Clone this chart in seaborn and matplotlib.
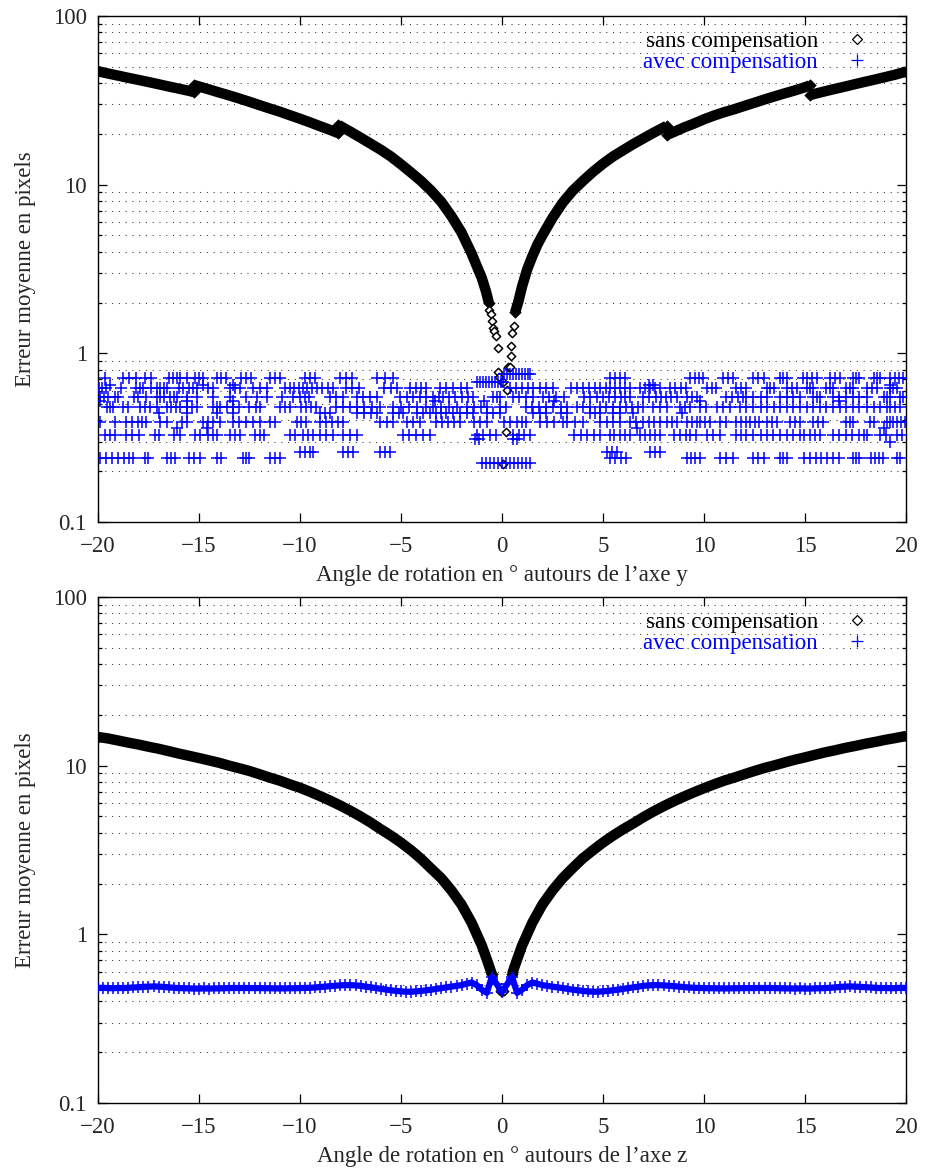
import numpy as np
import matplotlib
matplotlib.use("Agg")
import matplotlib.pyplot as plt
from matplotlib.lines import Line2D
from matplotlib.ticker import FixedLocator, FixedFormatter, NullFormatter
import seaborn as sns

sns.set_style("ticks")
plt.rcParams["font.family"] = ["Liberation Serif", "DejaVu Serif"]

BLUE = "#0000ff"

# ---------------------------------------------------------------------------
# Rotation about the y axis: error without compensation (piecewise branches)
# ---------------------------------------------------------------------------
y_sans_a_angle = [-20, -19.5, -19, -18.5, -18, -17.5, -17, -16.5, -16, -15.5, -15.25]
y_sans_a_err = [47.0, 45.6, 44.3, 43.0, 41.8, 40.6, 39.4, 38.2, 37.1, 36.0, 35.4]

y_sans_b_angle = [-15.25, -15, -14.5, -14, -13.5, -13, -12.5, -12, -11.5, -11, -10.5,
                  -10, -9.5, -9, -8.5, -8.1]
y_sans_b_err = [39.0, 38.2, 36.7, 35.2, 33.8, 32.4, 31.0, 29.6, 28.3, 27.1, 25.8,
                24.6, 23.4, 22.2, 21.1, 20.2]

y_sans_c_angle = [-8.1, -7.5, -7, -6.5, -6, -5.5, -5, -4.5, -4, -3.5, -3, -2.5, -2,
                  -1.75, -1.5, -1.25, -1.0, -0.8, -0.65]
y_sans_c_err = [22.6, 20.6, 19.0, 17.5, 16.1, 14.7, 13.2, 11.8, 10.5, 9.2, 7.9, 6.5,
                5.2, 4.5, 3.9, 3.3, 2.8, 2.35, 2.0]

y_sans_d_angle = [0.65, 0.8, 1.0, 1.25, 1.5, 1.75, 2.0, 2.5, 3.0, 3.5, 4.0, 4.5, 5.0,
                  5.5, 6.0, 6.5, 7.0, 7.5, 8.15]
y_sans_d_err = [1.75, 2.0, 2.5, 3.15, 3.75, 4.4, 5.0, 6.35, 7.8, 9.2, 10.5, 11.9, 13.3,
                14.7, 16.0, 17.4, 18.8, 20.3, 22.3]

y_sans_e_angle = [8.15, 8.5, 9, 9.5, 10, 10.5, 11, 11.5, 12, 12.5, 13, 13.5, 14, 14.5,
                  15, 15.25]
y_sans_e_err = [19.7, 20.5, 21.8, 23.0, 24.4, 25.7, 26.9, 28.0, 29.3, 30.6, 32.0, 33.4,
                34.8, 36.2, 37.8, 38.8]

y_sans_f_angle = [15.25, 15.5, 16, 16.5, 17, 17.5, 18, 18.5, 19, 19.5, 20]
y_sans_f_err = [34.0, 34.6, 35.8, 37.0, 38.2, 39.5, 40.8, 42.1, 43.5, 45.0, 46.8]

# isolated samples close to zero
y_sans_center_angle = [-0.63, -0.56, -0.48, -0.43, -0.38, -0.30, -0.22, -0.18, -0.15,
                       -0.02, 0.05, 0.06, 0.18, 0.23, 0.31, 0.38, 0.43, 0.46, 0.52, 0.58]
y_sans_center_err = [1.81, 1.70, 1.56, 1.42, 1.35, 1.26, 1.07, 0.78, 0.72,
                     0.68, 0.68, 0.22, 0.34, 0.61, 0.83, 0.83, 0.96, 1.10, 1.32, 1.45]

# ---------------------------------------------------------------------------
# Rotation about the y axis: error with compensation, grouped by error level
# ---------------------------------------------------------------------------
y_avec_levels = [0.75, 0.71, 0.68, 0.65, 0.62, 0.55, 0.52, 0.48, 0.44, 0.39, 0.36,
                 0.33, 0.31, 0.30, 0.26, 0.24, 0.225]
y_avec_angles = [
    # 0.75
    [0.1, 0.25, 0.4, 0.55, 0.7, 0.85, 1.0, 1.15, 1.3, 1.4],
    # 0.71
    [-19.65, -18.75, -18.45, -18.1, -17.65, -17.35, -16.5, -16.3, -16.1, -15.95,
     -15.6, -15.2, -15.0, -14.8, -14.1, -13.9, -13.65, -12.9, -12.65, -12.4, -11.5,
     -11.25, -11.0, -9.75, -9.5, -9.25, -8.0, -7.7, -7.4, -6.2, -5.8, -5.4, 5.35, 5.6,
     5.85, 6.1, 9.3, 9.55, 9.75, 9.95, 10.95, 11.2, 11.45, 12.45, 12.7, 12.95, 13.75,
     13.9, 14.1, 14.9, 15.1, 15.35, 15.6, 16.25, 16.5, 16.75, 17.4, 17.55, 17.7, 18.4,
     18.55, 18.7, 19.2, 19.45, 19.65, 19.85],
    # 0.68
    [-1.25, -1.1, -0.95, -0.8, -0.65, -0.5, -0.35, -0.2, -0.05, 0.05],
    # 0.65
    [-19.4, -14.8, -13.3, 7.3, 7.5, 19.2],
    # 0.62
    [-19.95, -19.8, -19.6, -18.85, -18.1, -17.9, -17.75, -17.35, -17.1, -16.95,
     -16.75, -16.6, -16.0, -15.8, -15.5, -15.3, -15.1, -14.55, -14.3, -13.45, -13.2,
     -12.95, -12.3, -12.0, -11.65, -10.75, -10.5, -10.3, -10.05, -9.85, -9.65, -9.4,
     -9.15, -8.9, -8.6, -8.35, -7.7, -7.4, -7.1, -5.85, -5.5, -5.2, -4.55, -4.25,
     -4.0, -3.75, -3.05, -2.75, -2.4, -2.05, -1.75, 0.4, 0.7, 1.0, 1.3, 1.55, 1.9,
     2.2, 2.55, 3.4, 3.7, 4.0, 4.3, 4.6, 4.85, 5.15, 5.35, 5.6, 5.85, 6.1, 6.35, 6.85,
     7.1, 7.35, 7.6, 7.8, 8.3, 8.55, 8.85, 9.1, 10.15, 10.4, 10.6, 11.6, 11.85, 12.1,
     13.1, 13.25, 13.45, 14.1, 14.35, 14.6, 15.1, 15.25, 15.4, 16.05, 16.25, 16.4,
     17.05, 17.25, 17.4, 18.05, 18.3, 18.55, 19.2, 19.35, 19.55],
    # 0.55
    [-19.9, -19.7, -19.5, -19.15, -19.0, -18.2, -18.0, -17.6, -17.1, -16.95, -16.75,
     -16.45, -16.25, -16.1, -15.6, -15.1, -14.3, -13.45, -12.65, -12.15, -11.65,
     -10.9, -10.35, -10.0, -9.75, -9.55, -8.5, -8.2, -7.85, -7.2, -6.9, -6.55, -6.2,
     -5.05, -4.7, -4.4, -4.05, -3.75, -3.4, -3.1, -2.9, -2.6, -2.3, -2.0, -1.7, -1.45,
     -0.45, -0.25, -0.1, 0.55, 0.85, 1.2, 1.55, 2.05, 2.35, 2.7, 3.05, 4.05, 4.35,
     4.7, 5.0, 5.3, 5.6, 5.9, 6.1, 6.35, 7.0, 7.3, 7.65, 7.85, 8.1, 8.35, 8.65, 9.15,
     9.4, 9.65, 11.1, 11.4, 11.7, 11.95, 12.1, 12.45, 12.8, 13.1, 13.75, 14.1, 14.4,
     14.75, 15.4, 15.6, 15.75, 16.4, 16.7, 17.05, 17.4, 17.7, 18.05, 18.9, 19.05,
     19.2, 19.7, 19.85],
    # 0.52
    [-19.9, -15.6, -13.3, -3.3, -0.9, 2.6, 9.8, 16.7],
    # 0.48
    [-19.55, -19.4, -19.25, -18.75, -18.5, -17.9, -17.65, -17.4, -17.1, -16.6, -16.4,
     -16.15, -15.95, -15.6, -15.35, -15.1, -14.3, -14.1, -13.95, -13.6, -13.3, -13.0,
     -12.5, -12.2, -12.0, -11.0, -10.75, -10.5, -9.95, -9.7, -9.45, -9.2, -8.2,
     -7.85, -7.5, -7.2, -6.85, -6.45, -6.05, -5.4, -5.0, -4.6, -4.2, -3.75, -3.4,
     -3.0, -2.6, -2.25, -1.75, -1.4, -1.05, -0.75, -0.1, 0.2, 1.2, 1.5, 1.85, 2.2,
     2.55, 2.9, 3.2, 3.7, 4.0, 4.35, 4.85, 5.15, 5.5, 5.85, 6.15, 6.45, 6.75, 7.0,
     7.5, 7.8, 8.15, 8.8, 9.05, 9.3, 9.8, 10.1, 10.65, 10.95, 11.3, 11.8, 12.1,
     12.45, 12.8, 13.1, 13.45, 13.75, 14.1, 14.4, 14.75, 15.1, 15.4, 15.75, 16.05,
     16.4, 16.75, 17.05, 17.4, 17.7, 18.05, 18.4, 18.7, 19.05, 19.2, 19.45, 19.7],
    # 0.44
    [-17.0, -15.6, -14.1, -13.3, -9.0, -8.75, -8.5, -7.2, -6.85, -6.5, -6.2, -5.4,
     -5.1, -4.9, -4.2, -3.9, -3.55, -3.25, -3.0, -2.75, -2.4, -2.1, -1.75, -1.45,
     -0.75, -0.45, -0.1, 1.55, 1.9, 2.2, 2.9, 3.2, 4.35, 4.6, 4.85, 5.5, 5.85, 6.5,
     8.9],
    # 0.39
    [-19.9, -19.15, -18.6, -18.3, -18.0, -17.8, -17.6, -16.95, -16.6, -15.85, -15.6,
     -14.8, -14.55, -14.3, -13.95, -13.3, -13.0, -12.65, -12.3, -12.0, -11.5, -11.25,
     -10.15, -9.95, -9.7, -9.0, -8.7, -8.4, -8.1, -7.85, -6.05, -5.7, -5.4, -4.7,
     -4.4, -4.05, -3.25, -2.95, -2.65, -2.35, -2.1, -1.4, -1.1, -0.75, 0.1, 0.4, 0.75,
     1.0, 1.2, 1.9, 2.25, 2.6, 3.0, 3.2, 3.6, 4.0, 4.85, 5.2, 5.5, 5.85, 6.35, 6.65,
     7.0, 7.3, 7.55, 7.8, 8.15, 8.4, 8.65, 9.15, 9.4, 9.65, 9.8, 10.05, 10.3, 10.8,
     11.1, 11.6, 11.85, 12.1, 12.3, 12.55, 12.75, 13.1, 13.35, 13.6, 14.25, 14.5,
     14.75, 15.4, 15.65, 15.9, 17.05, 17.25, 17.4, 18.2, 18.4, 19.05, 19.2, 19.35,
     19.55, 19.75, 19.95],
    # 0.36
    [-16.1, -14.6, 6.7, 18.9],
    # 0.33
    [-19.65, -19.4, -19.15, -18.6, -18.3, -17.95, -17.2, -17.0, -16.25, -15.95,
     -15.2, -14.95, -14.55, -14.3, -14.1, -13.45, -13.2, -12.95, -12.25, -12.0,
     -11.8, -10.5, -10.25, -9.85, -9.6, -9.35, -9.0, -8.7, -8.35, -7.85, -7.5, -7.2,
     -4.9, -4.6, -4.25, -3.9, -3.55, -1.25, -0.95, -0.6, -0.3, 0.55, 0.85, 1.1, 1.4,
     3.55, 3.9, 4.2, 4.55, 4.85, 5.35, 5.55, 5.85, 6.1, 6.35, 6.85, 7.1, 7.35, 7.6,
     7.8, 8.5, 8.8, 9.1, 9.3, 9.6, 10.15, 10.45, 10.8, 11.6, 11.85, 12.1, 12.45, 12.8,
     13.1, 13.4, 13.75, 14.1, 14.4, 14.75, 14.95, 15.25, 15.5, 15.75, 16.4, 16.7,
     17.05, 17.35, 17.7, 17.9, 18.05, 18.7, 19.0, 19.55, 19.8],
    # 0.31
    [-1.35, -1.15, 0.55, 0.75],
    # 0.30
    [19.2],
    # 0.26
    [-10.0, -9.75, -9.5, -9.35, -7.85, -7.6, -7.35, -6.05, -5.8, -5.55, 5.2, 5.45,
     5.7, 7.35, 7.6, 7.8],
    # 0.24
    [-19.9, -19.6, -19.3, -19.0, -18.7, -18.45, -18.25, -17.65, -17.5, -16.6, -16.4,
     -16.2, -15.5, -15.25, -14.95, -14.1, -13.9, -12.8, -12.65, -12.5, -11.5, -11.25,
     -11.0, 5.35, 5.6, 5.9, 6.15, 9.15, 9.35, 9.55, 9.8, 10.8, 11.1, 11.45, 12.45,
     12.7, 12.95, 13.75, 13.9, 14.1, 14.95, 15.25, 15.55, 15.8, 16.1, 16.4, 16.7,
     17.4, 17.55, 17.7, 18.25, 18.45, 18.65, 18.85, 19.55, 19.7],
    # 0.225
    [-1.0, -0.8, -0.6, -0.4, -0.2, 0.0, 0.2, 0.4, 0.6, 0.8, 1.0, 1.2, 1.4],
]

# ---------------------------------------------------------------------------
# Rotation about the z axis
# ---------------------------------------------------------------------------
z_sans_left_angle = [-20, -19.5, -19, -18.5, -18, -17.5, -17, -16.5, -16, -15.5, -15,
                     -14.5, -14, -13.5, -13, -12.5, -12, -11.5, -11, -10.5, -10, -9.5,
                     -9, -8.5, -8, -7.5, -7, -6.5, -6, -5.5, -5, -4.5, -4, -3.5, -3,
                     -2.5, -2, -1.5, -1, -0.75, -0.6, -0.5]
z_sans_left_err = [14.8, 14.5, 14.1, 13.7, 13.35, 12.95, 12.6, 12.2, 11.8, 11.45, 11.1,
                   10.75, 10.4, 10.0, 9.65, 9.3, 8.9, 8.5, 8.15, 7.75, 7.4, 7.0, 6.6,
                   6.2, 5.8, 5.4, 5.0, 4.6, 4.2, 3.85, 3.5, 3.15, 2.8, 2.45, 2.15, 1.82,
                   1.5, 1.17, 0.86, 0.71, 0.63, 0.58]
z_sans_right_angle = [0.5, 0.6, 0.75, 1, 1.5, 2, 2.5, 3, 3.5, 4, 4.5, 5, 5.5, 6, 6.5, 7,
                      7.5, 8, 8.5, 9, 9.5, 10, 10.5, 11, 11.5, 12, 12.5, 13, 13.5, 14,
                      14.5, 15, 15.5, 16, 16.5, 17, 17.5, 18, 18.5, 19, 19.5, 20]
z_sans_right_err = [0.58, 0.63, 0.71, 0.86, 1.17, 1.5, 1.82, 2.15, 2.47, 2.82, 3.15, 3.5,
                    3.85, 4.2, 4.55, 4.95, 5.35, 5.75, 6.15, 6.55, 6.95, 7.35, 7.75, 8.15,
                    8.5, 8.9, 9.3, 9.7, 10.05, 10.45, 10.85, 11.2, 11.6, 12.0, 12.35,
                    12.75, 13.1, 13.5, 13.85, 14.25, 14.6, 15.0]
z_sans_center_angle = [-0.5, -0.1, 0.0, 0.1, 0.5]
z_sans_center_err = [0.57, 0.46, 0.455, 0.46, 0.57]

# with compensation, sampled every 0.25 degree from -20 to 20
z_avec_err = [
    0.480, 0.482, 0.480, 0.479, 0.481, 0.480, 0.482, 0.484,
    0.486, 0.488, 0.490, 0.491, 0.490, 0.488, 0.485, 0.482,
    0.480, 0.479, 0.478, 0.477, 0.477, 0.478, 0.477, 0.478,
    0.478, 0.479, 0.480, 0.481, 0.480, 0.481, 0.480, 0.480,
    0.480, 0.479, 0.479, 0.478, 0.478, 0.478, 0.479, 0.479,
    0.480, 0.481, 0.482, 0.484, 0.487, 0.490, 0.493, 0.496,
    0.498, 0.500, 0.500, 0.498, 0.495, 0.490, 0.485, 0.480,
    0.475, 0.470, 0.466, 0.462, 0.459, 0.457, 0.457, 0.459,
    0.462, 0.466, 0.470, 0.475, 0.480, 0.485, 0.490, 0.495,
    0.500, 0.510, 0.518, 0.500, 0.470, 0.450, 0.560, 0.505,
    0.455,
    0.505, 0.560, 0.450, 0.470, 0.500, 0.518, 0.510, 0.500,
    0.495, 0.490, 0.485, 0.480, 0.475, 0.470, 0.466, 0.462,
    0.459, 0.457, 0.457, 0.459, 0.462, 0.466, 0.470, 0.475,
    0.480, 0.485, 0.490, 0.495, 0.498, 0.500, 0.500, 0.498,
    0.496, 0.493, 0.490, 0.487, 0.484, 0.482, 0.481, 0.480,
    0.479, 0.479, 0.478, 0.478, 0.478, 0.479, 0.479, 0.480,
    0.480, 0.480, 0.481, 0.480, 0.481, 0.480, 0.479, 0.478,
    0.478, 0.477, 0.478, 0.477, 0.477, 0.478, 0.479, 0.480,
    0.482, 0.485, 0.488, 0.490, 0.491, 0.490, 0.488, 0.486,
    0.484, 0.482, 0.480, 0.481, 0.479, 0.480, 0.482, 0.480,
]
z_avec_angle = np.linspace(-20, 20, len(z_avec_err))

y_ticks = [0.1, 1, 10, 100]
y_tick_labels = ["0.1", "1", "10", "100"]
y_minor = [m * d for d in (0.1, 1, 10) for m in range(2, 10)]
x_ticks = [-20, -15, -10, -5, 0, 5, 10, 15, 20]

FS = 16.5
BAND = 7.5  # width of the dense "sans compensation" trace, in points


def style_axes(ax, xlabel):
    ax.set_yscale("log")
    ax.set_xlim(-20, 20)
    ax.set_ylim(0.1, 100)
    ax.yaxis.set_major_locator(FixedLocator(y_ticks))
    ax.yaxis.set_major_formatter(FixedFormatter(y_tick_labels))
    ax.yaxis.set_minor_locator(FixedLocator(y_minor))
    ax.yaxis.set_minor_formatter(NullFormatter())
    ax.set_xticks(x_ticks)
    ax.grid(False)
    ax.grid(True, which="minor", axis="y", color="#333333",
            linestyle=(0, (1, 5.5)), linewidth=0.75)
    ax.set_axisbelow(True)
    ax.tick_params(which="both", direction="in", top=True, right=True,
                   labelsize=FS, width=0.9, color="black")
    ax.tick_params(which="major", length=6.5)
    ax.tick_params(axis="y", which="major", pad=8)
    ax.tick_params(axis="x", which="major", pad=10)
    ax.tick_params(which="minor", length=3.2)
    for s in ax.spines.values():
        s.set_visible(True)
        s.set_linewidth(1.0)
        s.set_color("black")
    ax.set_xlabel(xlabel, fontsize=FS)
    ax.set_ylabel("Erreur moyenne en pixels", fontsize=FS)
    ax.xaxis.set_label_coords(0.5, -0.085)
    ax.yaxis.set_label_coords(-0.077, 0.5)

    handles = [
        Line2D([], [], linestyle="none", marker="D", markersize=5,
               markerfacecolor="white", markeredgecolor="black", markeredgewidth=0.9),
        Line2D([], [], linestyle="none", marker="+", markersize=8,
               markeredgecolor=BLUE, markeredgewidth=0.9),
    ]
    leg = ax.legend(handles, ["sans compensation", "avec compensation"],
                    loc="upper right", bbox_to_anchor=(0.9536, 0.970),
                    frameon=False, markerfirst=False, fontsize=FS,
                    handlelength=1.0, handletextpad=1.2, labelspacing=0.0,
                    borderaxespad=0, borderpad=0)
    leg.get_texts()[0].set_color("black")
    leg.get_texts()[1].set_color(BLUE)


def band(ax, x, y):
    sns.lineplot(x=x, y=y, ax=ax, color="black", linewidth=BAND, sort=False,
                 estimator=None, solid_capstyle="butt", legend=False)
    sns.scatterplot(x=[x[0], x[-1]], y=[y[0], y[-1]], ax=ax, marker="D", s=34,
                    color="black", edgecolor="black", legend=False, zorder=3)


fig = plt.figure(figsize=(9.25, 11.68), dpi=100)
ax1 = fig.add_axes([0.1059, 0.5531, 0.8735, 0.4332])
ax2 = fig.add_axes([0.1059, 0.05565, 0.8735, 0.4332])

# --- top panel: rotation about y
for xs, ys in [(y_sans_a_angle, y_sans_a_err), (y_sans_b_angle, y_sans_b_err),
               (y_sans_c_angle, y_sans_c_err), (y_sans_d_angle, y_sans_d_err),
               (y_sans_e_angle, y_sans_e_err), (y_sans_f_angle, y_sans_f_err)]:
    band(ax1, xs, ys)
sns.scatterplot(x=y_sans_center_angle, y=y_sans_center_err, ax=ax1, marker="D", s=18,
                facecolor="white", edgecolor="black", linewidth=1.1, legend=False,
                zorder=3)

avec_x = [a for lev, angs in zip(y_avec_levels, y_avec_angles) for a in angs]
avec_y = [lev for lev, angs in zip(y_avec_levels, y_avec_angles) for a in angs]
sns.scatterplot(x=avec_x, y=avec_y, ax=ax1, marker="+", s=72, color=BLUE,
                linewidth=1.1, legend=False, zorder=4)
style_axes(ax1, "Angle de rotation en ° autours de l’axe y")

# --- bottom panel: rotation about z
band(ax2, z_sans_left_angle, z_sans_left_err)
band(ax2, z_sans_right_angle, z_sans_right_err)
sns.scatterplot(x=z_sans_center_angle, y=z_sans_center_err, ax=ax2, marker="D", s=18,
                facecolor="white", edgecolor="black", linewidth=1.1, legend=False,
                zorder=3)
sns.lineplot(x=z_avec_angle, y=z_avec_err, ax=ax2, color=BLUE, linewidth=4.5,
             sort=False, estimator=None, legend=False, zorder=4)
sns.scatterplot(x=z_avec_angle, y=z_avec_err, ax=ax2, marker="+", s=70, color=BLUE,
                linewidth=1.1, legend=False, zorder=4)
style_axes(ax2, "Angle de rotation en ° autours de l’axe z")

fig.savefig("out.png", dpi=100)
